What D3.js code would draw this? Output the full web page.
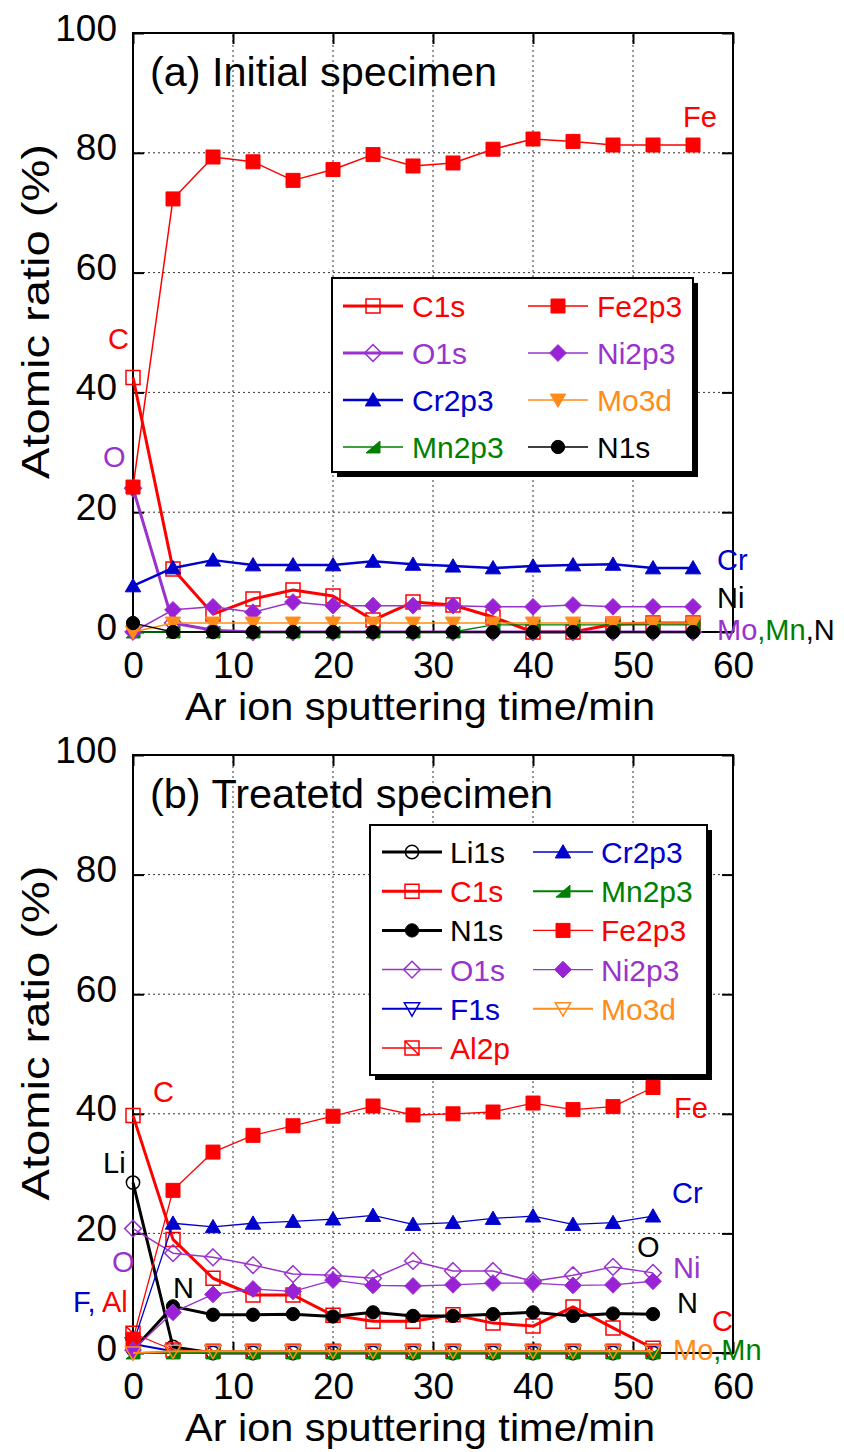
<!DOCTYPE html>
<html><head><meta charset="utf-8">
<script src="https://cdn.jsdelivr.net/npm/d3@7"></script>
<style>
body{margin:0;background:#fff}
svg{display:block}
text{font-family:Arial,"Liberation Sans",sans-serif}
</style>
</head><body>
<svg id="chart" width="844" height="1452"></svg>
<script>
// ---------------- DATA ----------------
const xTicks = [0,10,20,30,40,50,60];
const yTicks = [0,20,40,60,80,100];
const xTitle = "Ar ion sputtering time/min";
const yTitle = "Atomic ratio (%)";

// (a) Initial specimen
const titleA = "(a) Initial specimen";
const timesA = [0,4,8,12,16,20,24,28,32,36,40,44,48,52,56];
const C1sA   = [42.5,10.5,3,5.5,7,6,2,5,4.5,2.5,0,0,1.3,1.5,1.5];
const Fe2p3A = [24.2,72.3,79.3,78.5,75.4,77.2,79.7,77.8,78.3,80.6,82.3,81.9,81.3,81.3,81.3];
const O1sA   = [24,1.5,0.3,0,0,0,0,0,0,0,0,0,0,0,0];
const Ni2p3A = [0,3.7,4.2,3.3,5,4.4,4.4,4.4,4.4,4.2,4.2,4.5,4.2,4.2,4.2];
const Cr2p3A = [7.7,10.7,12,11.2,11.2,11.2,11.8,11.3,11,10.7,11,11.2,11.3,10.7,10.7];
const Mo3dA  = [0,1.5,1.5,1.5,1.5,1.5,1.5,1.5,1.5,1.5,1.5,1.5,1.5,1.5,1.5];
const Mn2p3A = [0,0,0,0,0,0,0,0,0,1.2,1.2,1.2,1.2,1.2,1.2];
const N1sA   = [1.5,0,0,0,0,0,0,0,0,0,0,0,0,0,0];

// (b) Treated specimen
const titleB = "(b) Treatetd specimen";
const timesB = [0,4,8,12,16,20,24,28,32,36,40,44,48,52];
const Li1sB  = [28.5,1,0,0,0,0,0,0,0,0,0,0,0,0];
const C1sB   = [39.7,19,12.5,9.7,9.7,6.3,5.3,5.3,6.4,5,4.5,7.7,4.2,0.8];
const N1sB   = [0.5,7.8,6.4,6.4,6.5,6.1,6.8,6.2,6.2,6.5,6.8,6.2,6.6,6.5];
const O1sB   = [20.8,16.7,16,14.7,13.2,13,12.5,15.4,13.7,13.7,12,13,14.4,13.4];
const F1sB   = [1.5,0.3,0.2,0.2,0.2,0.2,0.2,0.2,0.2,0.2,0.2,0.2,0.2,0.2];
const Al2pB  = [3.3,0.5,0.3,0.3,0.3,0.3,0.3,0.3,0.3,0.3,0.3,0.3,0.3,0.3];
const Cr2p3B = [1.5,21.7,21.1,21.7,22,22.4,23,21.5,21.8,22.5,22.9,21.5,21.8,22.9];
const Mn2p3B = [0,0,0,0,0,0,0,0,0,0,0,0,0,0];
const Fe2p3B = [2.3,27.2,33.6,36.4,38,39.6,41.3,39.8,40,40.3,41.8,40.7,41.2,44.4];
const Ni2p3B = [0.5,6.8,9.8,10.7,10.3,12.2,11.3,11.2,11.4,11.7,11.7,11.3,11.4,12];
const Mo3dB  = [0,0.3,0.3,0.3,0.3,0.3,0.3,0.3,0.3,0.3,0.3,0.3,0.3,0.3];

// ---------------- STYLE ----------------
const RED="#ff0000", PURPLE="#9933cc", PURPLEF="#9a22d6", BLUE="#0000cc",
      ORANGE="#ff8c1a", GREEN="#008000", BLACK="#000000";

const seriesA = [
  {name:"C1s",   v:C1sA,   color:RED,    lw:3,   sym:"square",  open:true,  z:0},
  {name:"Fe2p3", v:Fe2p3A, color:RED,    lw:1.5, sym:"square",  open:false, z:4},
  {name:"O1s",   v:O1sA,   color:PURPLE, lw:3,   sym:"diamond", open:true,  z:1},
  {name:"Ni2p3", v:Ni2p3A, color:PURPLE, lw:1.5, sym:"diamond", open:false, z:5, fill:PURPLEF},
  {name:"Cr2p3", v:Cr2p3A, color:BLUE,   lw:2.5, sym:"triUp",   open:false, z:2},
  {name:"Mo3d",  v:Mo3dA,  color:ORANGE, lw:1.5, sym:"triDown", open:false, z:6},
  {name:"Mn2p3", v:Mn2p3A, color:GREEN,  lw:1.3, sym:"rtri",    open:false, z:3},
  {name:"N1s",   v:N1sA,   color:BLACK,  lw:1.3, sym:"circle",  open:false, z:7}
];
const seriesB = [
  {name:"Li1s",  v:Li1sB,  color:BLACK,  lw:3,   sym:"circle",  open:true,  z:0},
  {name:"C1s",   v:C1sB,   color:RED,    lw:3,   sym:"square",  open:true,  z:1},
  {name:"N1s",   v:N1sB,   color:BLACK,  lw:3,   sym:"circle",  open:false, z:2},
  {name:"O1s",   v:O1sB,   color:PURPLE, lw:1.5, sym:"diamond", open:true,  z:3},
  {name:"F1s",   v:F1sB,   color:BLUE,   lw:2,   sym:"triDown", open:true,  z:4},
  {name:"Al2p",  v:Al2pB,  color:RED,    lw:1.3, sym:"sqdiag",  open:true,  z:5},
  {name:"Cr2p3", v:Cr2p3B, color:BLUE,   lw:1.3, sym:"triUp",   open:false, z:6},
  {name:"Mn2p3", v:Mn2p3B, color:GREEN,  lw:2,   sym:"rtri",    open:false, z:7},
  {name:"Fe2p3", v:Fe2p3B, color:RED,    lw:1.3, sym:"square",  open:false, z:8},
  {name:"Ni2p3", v:Ni2p3B, color:PURPLE, lw:1.3, sym:"diamond", open:false, z:9, fill:PURPLEF},
  {name:"Mo3d",  v:Mo3dB,  color:ORANGE, lw:2,   sym:"triDown", open:true,  z:10}
];

// annotations: parts [text,color], positioned in data coordinates (t, v)
const annA = [
  {t:55,   v:84.3, parts:[["Fe",RED]]},
  {t:-2.5, v:47.2, parts:[["C",RED]]},
  {t:-3,   v:27.5, parts:[["O",PURPLE]]},
  {t:58.4, v:10.4, parts:[["Cr",BLUE]]},
  {t:58.4, v:4.0,  parts:[["Ni",BLACK]]},
  {t:58.4, v:-1.3, parts:[["Mo",PURPLE],[",Mn",GREEN],[",N",BLACK]]}
];
const annB = [
  {t:2,    v:42,   parts:[["C",RED]]},
  {t:54.1, v:39.3, parts:[["Fe",RED]]},
  {t:-3,   v:30.1, parts:[["Li",BLACK]]},
  {t:53.9, v:25.1, parts:[["Cr",BLUE]]},
  {t:50.4, v:16.0, parts:[["O",BLACK]]},
  {t:54,   v:12.5, parts:[["Ni",PURPLE]]},
  {t:54.4, v:6.7,  parts:[["N",BLACK]]},
  {t:57.9, v:3.7,  parts:[["C",RED]]},
  {t:54,   v:-1.2, parts:[["Mo",ORANGE],[",Mn",GREEN]]},
  {t:-2.1, v:13.5, parts:[["O",PURPLE]]},
  {t:4,    v:9.2,  parts:[["N",BLACK]]},
  {t:-6,   v:6.9,  parts:[["F,",BLUE],[" Al",RED]]}
];

const panels = [
  {top:33, bottom:632, title:titleA, titleW:347, times:timesA, series:seriesA, ann:annA,
   legend:{x:332, y:278, w:361, h:194, rows:4, cols:2, colMajor:false, row0:306, rowH:47,
           colX:[343,528], lineW:60, textGap:9}},
  {top:755, bottom:1353, title:titleB, titleW:403, times:timesB, series:seriesB, ann:annB,
   legend:{x:370, y:825, w:337, h:250, rows:6, cols:2, colMajor:true, row0:852, rowH:39.2,
           colX:[382,533], lineW:60, textGap:8}}
];

// ---------------- DRAW ----------------
const svg = d3.select("#chart");
const x = d3.scaleLinear().domain([0,60]).range([133,733]);

function symPath(sym, s){
  switch(sym){
    case "square": case "sqdiag": {
      let p = `M${-s},${-s}H${s}V${s}H${-s}Z`;
      if(sym==="sqdiag") p += `M${-s},${-s}L${s},${s}`;
      return p;}
    case "diamond": {const d=s*1.2; return `M0,${-d}L${d},0L0,${d}L${-d},0Z`;}
    case "triUp": return `M0,${-s*1.05}L${s*1.1},${s*0.85}L${-s*1.1},${s*0.85}Z`;
    case "triDown": return `M0,${s*1.05}L${s*1.1},${-s*0.85}L${-s*1.1},${-s*0.85}Z`;
    case "rtri": return `M${-s},${s*0.85}L${s},${s*0.85}L${s},${-s*0.85}Z`;
    case "circle": {const r=s*0.95; return `M${r},0A${r},${r} 0 1,1 ${-r},0A${r},${r} 0 1,1 ${r},0Z`;}
  }
}
function drawMarker(g, sym, s, sr, cx, cy){
  g.append("path").attr("transform",`translate(${cx},${cy})`)
    .attr("d", symPath(sym, s))
    .attr("fill", sr.open ? "none" : (sr.fill || sr.color))
    .attr("stroke", sr.color)
    .attr("stroke-width", sr.open ? 1.5 : 1);
}

panels.forEach(p => {
  const y = d3.scaleLinear().domain([0,100]).range([p.bottom, p.top]);
  const g = svg.append("g");

  // grid
  g.append("g").selectAll("line").data(xTicks.slice(1,-1)).join("line")
    .attr("x1",d=>x(d)).attr("x2",d=>x(d)).attr("y1",y(0)).attr("y2",y(100))
    .attr("stroke","#333").attr("stroke-width",1).attr("stroke-dasharray","2,3");
  g.append("g").selectAll("line").data(yTicks.slice(1,-1)).join("line")
    .attr("y1",d=>y(d)).attr("y2",d=>y(d)).attr("x1",x(0)).attr("x2",x(60))
    .attr("stroke","#333").attr("stroke-width",1).attr("stroke-dasharray","2,3");

  // axes
  const ax = (gen, tx, ty) => {
    const a = g.append("g").attr("transform",`translate(${tx},${ty})`).call(gen);
    a.select(".domain").remove();
    a.selectAll(".tick line").attr("stroke","#000").attr("stroke-width",2);
    a.selectAll("text").attr("font-size",37).attr("fill","#000")
      .style("font-family","Arial, 'Liberation Sans', sans-serif");
    return a;
  };
  const bAx = ax(d3.axisBottom(x).tickValues(xTicks).tickSize(-11).tickPadding(20), 0, y(0));
  bAx.selectAll("text").attr("dy","0.71em");
  ax(d3.axisTop(x).tickValues(xTicks).tickSize(-11).tickFormat(""), 0, y(100));
  const lAx = ax(d3.axisLeft(y).tickValues(yTicks).tickSize(-11).tickPadding(16), x(0), 0);
  lAx.selectAll("text").attr("dy", 7);
  ax(d3.axisRight(y).tickValues(yTicks).tickSize(-11).tickFormat(""), x(60), 0);

  // frame
  g.append("rect").attr("x",x(0)).attr("y",y(100)).attr("width",x(60)-x(0)).attr("height",y(0)-y(100))
    .attr("fill","none").attr("stroke","#000").attr("stroke-width",2);

  // axis titles
  g.append("text").attr("x",420).attr("y",y(0)+88).attr("text-anchor","middle")
    .attr("font-size",38).attr("textLength",470).attr("lengthAdjust","spacingAndGlyphs").text(xTitle);
  const yc = (y(0)+y(100))/2 - 21;
  g.append("text").attr("transform",`translate(49,${yc}) rotate(-90)`).attr("text-anchor","middle")
    .attr("font-size",38).attr("textLength",335).attr("lengthAdjust","spacingAndGlyphs").text(yTitle);

  // panel title
  g.append("text").attr("x",150).attr("y",y(100)+53).attr("font-size",40)
    .attr("textLength",p.titleW).attr("lengthAdjust","spacingAndGlyphs").text(p.title);

  // series (drawn in plotting order z)
  const line = d3.line().x(d=>x(d[0])).y(d=>y(d[1]));
  p.series.slice().sort((a,b)=>a.z-b.z).forEach(sr => {
    const pts = p.times.map((t,i)=>[t, sr.v[i]]);
    const sg = g.append("g");
    sg.append("path").attr("d", line(pts)).attr("fill","none")
      .attr("stroke", sr.color).attr("stroke-width", sr.lw).attr("stroke-linejoin","round");
    pts.forEach(d => drawMarker(sg, sr.sym, 7, sr, x(d[0]), y(d[1])));
  });

  // legend
  const L = p.legend;
  const lg = g.append("g");
  lg.append("rect").attr("x",L.x+5).attr("y",L.y+5).attr("width",L.w).attr("height",L.h).attr("fill","#000");
  lg.append("rect").attr("x",L.x).attr("y",L.y).attr("width",L.w).attr("height",L.h)
    .attr("fill","#fff").attr("stroke","#000").attr("stroke-width",2);
  p.series.forEach((sr, i) => {
    const col = L.colMajor ? Math.floor(i / L.rows) : i % L.cols;
    const row = L.colMajor ? i % L.rows : Math.floor(i / L.cols);
    const lx = L.colX[col], ly = L.row0 + row*L.rowH;
    lg.append("line").attr("x1",lx).attr("x2",lx+L.lineW).attr("y1",ly).attr("y2",ly)
      .attr("stroke",sr.color).attr("stroke-width",sr.lw);
    drawMarker(lg, sr.sym, 7, sr, lx+L.lineW/2, ly);
    lg.append("text").attr("x",lx+L.lineW+L.textGap).attr("y",ly+11)
      .attr("font-size",30).attr("fill",sr.color).text(sr.name);
  });

  // annotations
  p.ann.forEach(a => {
    const t = g.append("text").attr("x",x(a.t)).attr("y",y(a.v)).attr("font-size",29);
    a.parts.forEach(([s,c]) => t.append("tspan").attr("fill",c).text(s));
  });
});
</script>
</body></html>
